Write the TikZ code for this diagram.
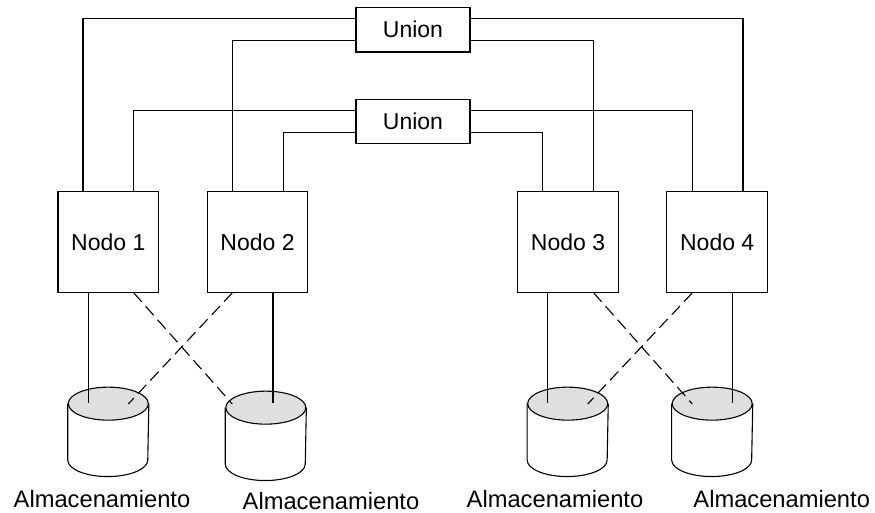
\documentclass[tikz,border=0pt]{standalone}
\usepackage{fontspec}
\setmainfont{Liberation Sans}
\newcommand\drumshape[1]{%
  % body of the storage drum, then its shaded top
  \draw[fill=white] ([yshift=-16.5pt]#1.north west) -- ([yshift=16.5pt]#1.south west)
    arc[start angle=180,end angle=360,x radius=40pt,y radius=16.5pt]
    -- ([yshift=-16.5pt]#1.north east);
  \draw[fill=gray!25] ([yshift=-16.5pt]#1.north) ellipse[x radius=40pt,y radius=16.5pt];
}
\begin{document}
\begin{tikzpicture}[x=1pt,y=-1pt,line width=1.1pt,
  nodebox/.style={draw,minimum width=100.7pt,minimum height=101pt,inner sep=0pt,
    font=\fontsize{23}{27}\selectfont},
  unionbox/.style={draw,fill=white,minimum width=114pt,minimum height=44.5pt,inner sep=0pt,
    font=\fontsize{23}{27}\selectfont},
  store/.style={minimum width=80pt,minimum height=88.3pt,inner sep=0pt},
  crosslink/.style={dash pattern=on 12pt off 6pt},
  caption/.style={anchor=base,inner sep=0pt,text depth=0pt,font=\fontsize{23.7}{28}\selectfont}]
\useasboundingbox (0,0) rectangle (875,513);

% cluster nodes
\node[nodebox] (n1) at (108.3,241.8) {Nodo 1};
\node[nodebox] (n2) at (257.5,241.8) {Nodo 2};
\node[nodebox] (n3) at (568,241.8) {Nodo 3};
\node[nodebox] (n4) at (717.2,241.8) {Nodo 4};

% interconnects
\node[unionbox] (u1) at (413,29.75) {Union};
\node[unionbox] (u2) at (413,121.6) {Union};

% storage drums
\node[store] (s1) at (108.3,431.85) {};
\node[store] (s2) at (265.8,435.85) {};
\node[store] (s3) at (567.7,431.85) {};
\node[store] (s4) at (712.2,431.85) {};
\drumshape{s1}
\drumshape{s2}
\drumshape{s3}
\drumshape{s4}

% links to the interconnects
\draw ([xshift=-25.3pt]n1.north) |- ([yshift=11pt]u1.west);
\draw ([xshift=-25.2pt]n2.north) |- ([yshift=-11pt]u1.west);
\draw ([xshift=25.8pt]n4.north) |- ([yshift=11pt]u1.east);
\draw ([xshift=25.7pt]n3.north) |- ([yshift=-11pt]u1.east);
\draw ([xshift=25.4pt]n1.north) |- ([yshift=11pt]u2.west);
\draw ([xshift=25.8pt]n2.north) |- ([yshift=-11pt]u2.west);
\draw ([xshift=-24.9pt]n4.north) |- ([yshift=11pt]u2.east);
\draw ([xshift=-25.3pt]n3.north) |- ([yshift=-11pt]u2.east);

% ends of the storage links
\coordinate (e1) at (88.3,403);
\coordinate (e2) at (273,403);
\coordinate (e3) at (547.7,403);
\coordinate (e4) at (732.3,403);
\coordinate (d1) at (232.3,404);
\coordinate (d2) at (128.3,404);
\coordinate (d3) at (692.3,404);
\coordinate (d4) at (587.7,404);

% primary storage links
\draw ([xshift=-20pt]n1.south) -- (e1);
\draw ([xshift=15.5pt]n2.south) -- (e2);
\draw ([xshift=-20.3pt]n3.south) -- (e3);
\draw ([xshift=15.1pt]n4.south) -- (e4);

% standby storage links
\draw[crosslink] ([xshift=25.4pt]n1.south) -- (d1);
\draw[crosslink] ([xshift=-25.2pt]n2.south) -- (d2);
\draw[crosslink] ([xshift=25.7pt]n3.south) -- (d3);
\draw[crosslink] ([xshift=-24.9pt]n4.south) -- (d4);

% captions
\node[caption] (c1) at (102,507.5) {Almacenamiento};
\node[caption] (c2) at (331,509) {Almacenamiento};
\node[caption] (c3) at (555,507.5) {Almacenamiento};
\node[caption] (c4) at (781.7,507.5) {Almacenamiento};
\end{tikzpicture}
\end{document}
